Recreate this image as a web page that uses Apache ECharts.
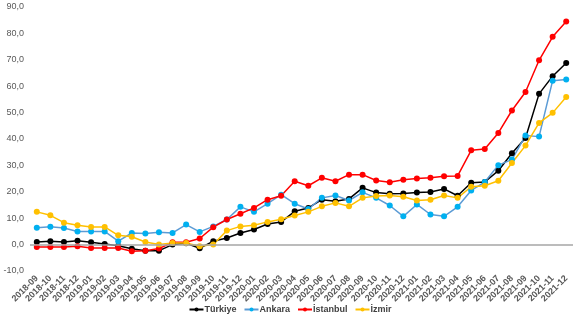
<!DOCTYPE html>
<html>
<head>
<meta charset="utf-8">
<script src="https://cdn.jsdelivr.net/npm/echarts@6/dist/echarts.min.js"></script>
<style>html,body{margin:0;padding:0;background:#fff;}#c{width:580px;height:325px;}</style>
</head>
<body>
<div id="c"></div>
<script>
var categories = ['2018-09','2018-10','2018-11','2018-12','2019-01','2019-02','2019-03','2019-04','2019-05','2019-06','2019-07','2019-08','2019-09','2019-10','2019-11','2019-12','2020-01','2020-02','2020-03','2020-04','2020-05','2020-06','2020-07','2020-08','2020-09','2020-10','2020-11','2020-12','2021-01','2021-02','2021-03','2021-04','2021-05','2021-06','2021-07','2021-08','2021-09','2021-10','2021-11','2021-12'];
var turkiye = [1.0,1.3,1.0,1.5,0.9,0.2,-0.4,-1.6,-2.3,-2.3,0.0,0.5,-1.4,1.3,2.5,4.4,5.7,7.8,8.6,12.6,13.9,17.0,16.4,17.3,21.5,19.7,19.3,19.4,19.7,19.9,21.1,18.5,23.4,23.7,28.0,34.6,40.4,57.1,63.8,68.8];
var ankara = [6.4,6.8,6.3,5.0,5.0,5.0,1.3,4.4,4.2,4.7,4.4,7.6,4.8,6.9,9.5,14.3,12.4,15.5,18.9,15.5,13.5,17.7,18.6,16.7,19.8,17.7,14.8,10.7,15.2,11.4,10.7,14.3,20.5,23.7,30.1,32.2,41.3,40.9,62.1,62.5];
var istanbul = [-0.9,-0.9,-0.9,-0.6,-1.3,-1.3,-1.3,-2.5,-2.3,-1.5,0.9,0.9,2.3,6.6,9.5,11.7,13.9,17.0,18.5,24.0,22.3,25.3,24.0,26.5,26.5,24.3,23.6,24.6,25.0,25.3,25.9,26.0,35.7,36.2,42.3,50.8,57.8,69.8,78.7,84.5];
var izmir = [12.4,11.1,8.3,7.3,6.7,6.7,3.5,3.0,1.0,0.0,0.6,0.6,-0.6,0.0,5.3,6.9,7.3,8.6,9.6,11.0,12.4,14.5,15.8,14.5,17.7,18.4,18.6,18.1,16.7,17.0,18.6,17.7,21.9,22.3,24.2,30.9,37.5,46.1,49.9,55.9];
var seriesNames = ['Türkiye','Ankara','İstanbul','İzmir'];
var yTicks = {min: -10, max: 90, interval: 10};

var chart = echarts.init(document.getElementById('c'), null, {renderer: 'canvas'});
function mk(name, data, mcolor, lcolor) {
  return {
    name: name, type: 'line', data: data,
    symbol: 'circle', symbolSize: 6,
    itemStyle: {color: mcolor},
    lineStyle: {color: lcolor, width: 1.5},
    emphasis: {disabled: true},
    animation: false
  };
}
var s0 = mk(seriesNames[0], turkiye, '#000000', '#000000');
s0.markLine = {
  silent: true, symbol: ['none','none'], label: {show: false},
  lineStyle: {color: '#a6a6a6', width: 1.5, type: 'solid'},
  data: [{yAxis: 0}], animation: false
};
chart.setOption({
  animation: false,
  backgroundColor: '#ffffff',
  grid: {left: 30, right: 7, top: 7, bottom: 54},
  legend: {
    bottom: 6, left: 'center', itemWidth: 14, itemHeight: 5, itemGap: 7,
    textStyle: {fontFamily: 'Liberation Sans, Arial', fontSize: 9, fontWeight: 'bold', color: '#404040', padding: [0, 0, 0, -4]},
    data: seriesNames
  },
  xAxis: {
    type: 'category', data: categories, boundaryGap: true,
    axisLine: {show: false, onZero: false},
    axisTick: {show: false},
    axisLabel: {interval: 0, rotate: 45, fontSize: 9, color: '#595959', fontFamily: 'Liberation Sans, Arial', fontWeight: 'bold', margin: 6},
    splitLine: {show: false}
  },
  yAxis: {
    type: 'value', min: yTicks.min, max: yTicks.max, interval: yTicks.interval,
    axisLine: {show: false}, axisTick: {show: false},
    splitLine: {show: false},
    axisLabel: {fontSize: 9, color: '#595959', fontFamily: 'Liberation Sans, Arial', margin: 6,
      formatter: function(v){ return v.toFixed(1).replace('.', ','); }}
  },
  series: [
    s0,
    mk(seriesNames[1], ankara, '#00b0f0', '#5b9bd5'),
    mk(seriesNames[2], istanbul, '#ff0000', '#ff0000'),
    mk(seriesNames[3], izmir, '#ffc000', '#ffc000')
  ]
});
</script>
</body>
</html>
